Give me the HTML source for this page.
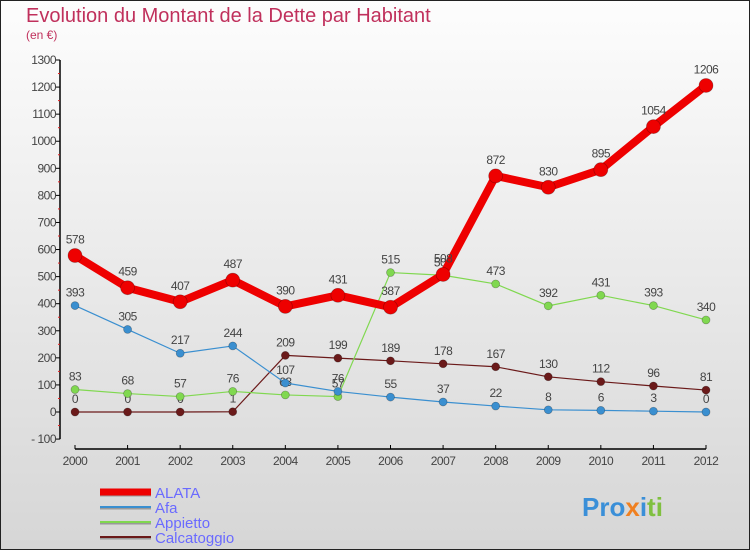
<!DOCTYPE html>
<html><head><meta charset="utf-8"><style>
body{margin:0;}
#c{width:750px;height:550px;position:relative;overflow:hidden;font-family:"Liberation Sans",sans-serif;}
</style></head><body>
<div id="c">
<svg id="s" width="750" height="550" xmlns="http://www.w3.org/2000/svg">
<defs><linearGradient id="bg" x1="0" y1="0" x2="0" y2="1"><stop offset="0" stop-color="#fdfdfd"/><stop offset="1" stop-color="#d6d6d6"/></linearGradient></defs>
<rect x="0.5" y="0.5" width="749" height="549" fill="url(#bg)" stroke="#222"/>
<text x="26" y="22" font-size="20" fill="#c0305c" font-weight="normal">Evolution du Montant de la Dette par Habitant</text>
<text x="26" y="39" font-size="12" fill="#c0305c">(en €)</text>
<g id="axes"></g><g id="series"></g><g id="legend"></g>
<text x="582" y="516" font-size="26" font-weight="bold" fill="#3a8fd8">Pro<tspan fill="#f08020">x</tspan><tspan fill="#3a8fd8">i</tspan><tspan fill="#80c040">ti</tspan></text>
</svg></div>
<script>
const years=[2000,2001,2002,2003,2004,2005,2006,2007,2008,2009,2010,2011,2012];
const yTicks=[-100,0,100,200,300,400,500,600,700,800,900,1000,1100,1200,1300];
const alata=[578,459,407,487,390,431,387,508,872,830,895,1054,1206];
const afa=[393,305,217,244,107,76,55,37,22,8,6,3,0];
const appietto=[83,68,57,76,63,57,515,505,473,392,431,393,340];
const calcatoggio=[0,0,0,1,209,199,189,178,167,130,112,96,81];
const NS="http://www.w3.org/2000/svg";
const X=i=>75+i*(706-75)/12;
const Y=v=>412-v*(412-60)/1300;
function mk(t,a,p){const e=document.createElementNS(NS,t);for(const k in a)e.setAttribute(k,a[k]);p.appendChild(e);return e;}
const ax=document.getElementById('axes');
let l=mk('line',{x1:60,y1:Y(-100),x2:60,y2:Y(1300),stroke:'#000','stroke-width':1.5},ax);

yTicks.forEach((v,k)=>{
 mk('line',{x1:56,x2:60,y1:Y(v),y2:Y(v),stroke:'#000'},ax);
 if(k<yTicks.length-1) mk('line',{x1:58,x2:60,y1:Y(v+50),y2:Y(v+50),stroke:'#e02020'},ax);
 const t=mk('text',{x:56,y:Y(v)+4,'font-size':12,'text-anchor':'end',fill:'#444','letter-spacing':'-0.5'},ax);
 t.textContent=v<0?'- '+(-v):v;
 
 
});
let xl=mk('line',{x1:X(0),y1:449,x2:X(12),y2:449,stroke:'#000','stroke-width':1.5},ax);

years.forEach((yr,i)=>{
 mk('line',{x1:X(i),x2:X(i),y1:445,y2:449,stroke:'#000'},ax);
 const t=mk('text',{x:X(i),y:465,'font-size':12,'text-anchor':'middle',fill:'#444','letter-spacing':'-0.5'},ax);
 t.textContent=yr;
 
 
});
const S=[
 {n:'Calcatoggio',d:calcatoggio,c:'#6b1a1a',w:1.2,r:4},
 {n:'Appietto',d:appietto,c:'#80d850',w:1.2,r:4},
 {n:'Afa',d:afa,c:'#3a8fd0',w:1.2,r:4},
 {n:'ALATA',d:alata,c:'#ee0000',w:8,r:7}];
const sg=document.getElementById('series');
S.forEach(s=>{
 const g=mk('g',{},sg);
 
 
 mk('polyline',{points:s.d.map((v,i)=>X(i)+','+Y(v)).join(' '),fill:'none',stroke:s.c,'stroke-width':s.w,'stroke-linejoin':'round'},g);
 s.d.forEach((v,i)=>{
  const c=mk('circle',{cx:X(i),cy:Y(v),r:s.r,fill:s.c,stroke:'rgba(0,0,0,0.3)','stroke-width':0.7},g);
  
  
  const t=mk('text',{x:X(i),y:Y(v)-(s.r+5),'font-size':12,'text-anchor':'middle',fill:'#444','letter-spacing':'-0.5'},g);
  t.textContent=v;
  
  
 });
});
const lg=document.getElementById('legend');
[...S].reverse().forEach((s,i)=>{
 const y=492+i*15;
 const g=mk('g',{},lg);
 
 
 mk('line',{x1:100,x2:151,y1:y+1,y2:y+1,stroke:'#999','stroke-width':i==0?7:3},g);
 mk('line',{x1:100,x2:151,y1:y,y2:y,stroke:s.c,'stroke-width':i==0?7:2},g);
 const t=mk('text',{x:155,y:y+6,'font-size':15,fill:'#6a6aff'},g);
 t.textContent=s.n;
});
</script>
</body></html>
